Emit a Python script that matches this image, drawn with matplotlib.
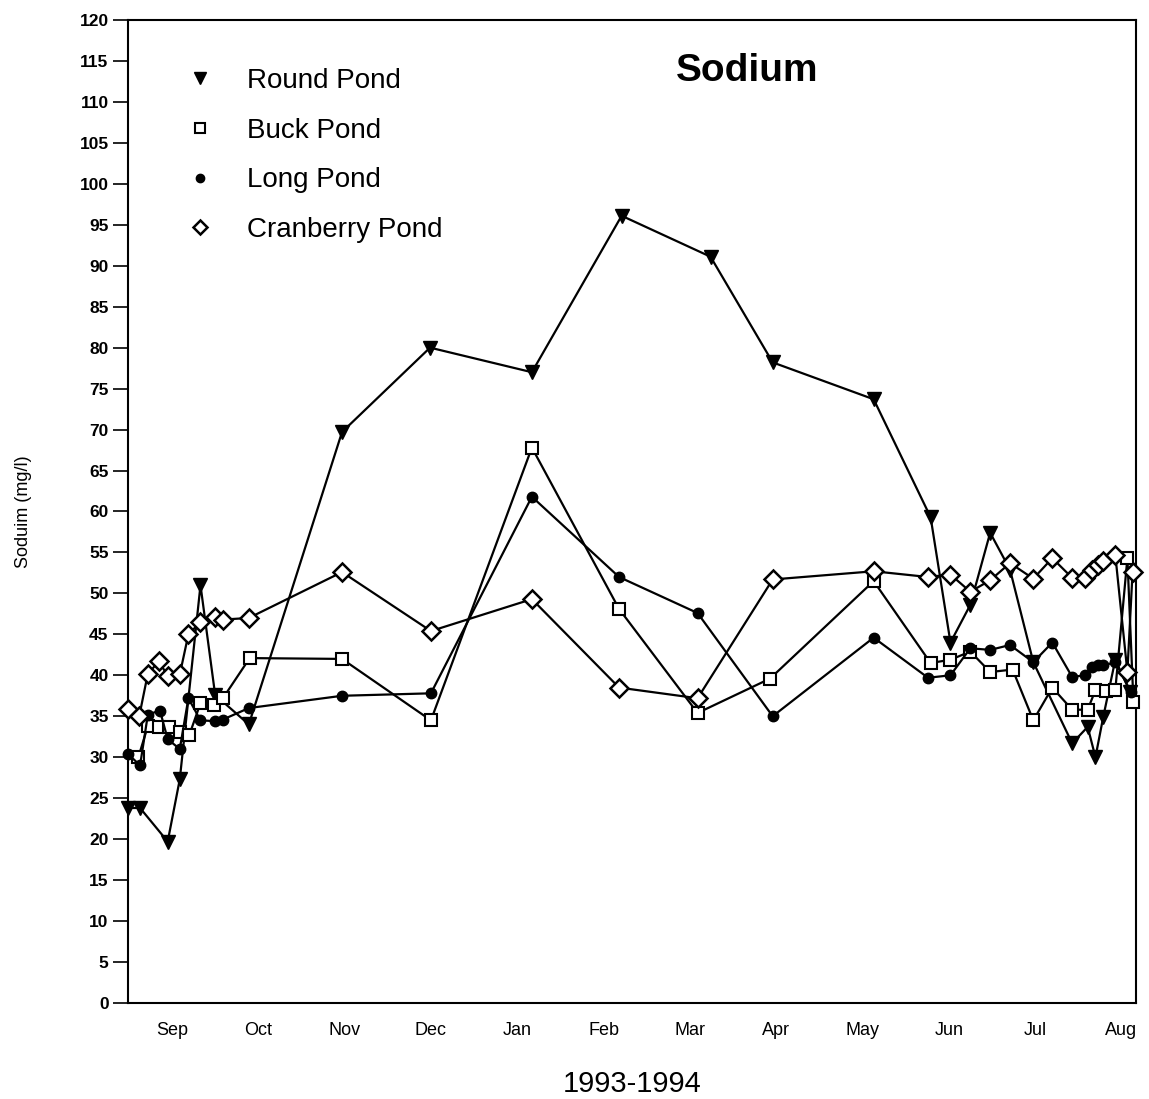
import matplotlib
matplotlib.use("Agg")
import matplotlib.pyplot as plt
from matplotlib.lines import Line2D

plt.rcParams['font.family'] = ['Liberation Sans', 'DejaVu Sans']

# x positions in months (0 = Sep label), y in mg/l
months = ["Sep", "Oct", "Nov", "Dec", "Jan", "Feb", "Mar", "Apr", "May", "Jun", "Jul", "Aug"]
y_ticks = list(range(0, 121, 5))

round_x = [-0.51, -0.37, -0.05, 0.09, 0.33, 0.50, 0.89, 1.97, 2.99, 4.17, 5.21, 6.24, 6.96,
           8.13, 8.79, 9.02, 9.25, 9.48, 9.71, 9.98, 10.43, 10.61, 10.70, 10.79, 10.93, 11.10]
round_y = [23.8, 23.8, 19.7, 27.3, 51.0, 37.6, 34.0, 69.7, 80.0, 77.0, 96.1, 91.1, 78.2,
           73.7, 59.3, 44.0, 48.6, 57.4, 52.9, 41.6, 31.7, 33.7, 30.0, 34.9, 41.9, 38.0]

buck_x = [-0.39, -0.28, -0.15, -0.04, 0.09, 0.20, 0.33, 0.49, 0.59, 0.90, 1.97, 3.00, 4.17,
          5.18, 6.09, 6.93, 8.13, 8.79, 9.02, 9.25, 9.48, 9.74, 9.98, 10.20, 10.43, 10.61,
          10.70, 10.82, 10.93, 11.07, 11.14]
buck_y = [30.0, 33.8, 33.7, 33.7, 33.1, 32.7, 36.6, 36.4, 37.2, 42.1, 42.0, 34.5, 67.8,
          48.1, 35.4, 39.6, 51.5, 41.5, 41.9, 42.9, 40.4, 40.7, 34.5, 38.5, 35.8, 35.8,
          38.2, 38.1, 38.2, 54.3, 36.8]

long_x = [-0.51, -0.37, -0.28, -0.14, -0.05, 0.09, 0.19, 0.33, 0.50, 0.59, 0.89, 1.97, 3.00,
          4.17, 5.18, 6.09, 6.96, 8.13, 8.76, 9.02, 9.25, 9.48, 9.71, 9.98, 10.20, 10.43,
          10.58, 10.66, 10.73, 10.79, 10.93, 11.11]
long_y = [30.4, 29.0, 35.2, 35.7, 32.2, 31.0, 37.2, 34.5, 34.4, 34.6, 36.0, 37.5, 37.8,
          61.8, 52.0, 47.6, 35.0, 44.6, 39.7, 40.0, 43.3, 43.1, 43.7, 41.6, 44.0, 39.8,
          40.0, 41.0, 41.2, 41.2, 41.6, 38.0]

cran_x = [-0.51, -0.38, -0.28, -0.15, -0.05, 0.09, 0.19, 0.33, 0.50, 0.59, 0.89, 1.97, 3.00,
          4.17, 5.18, 6.09, 6.96, 8.13, 8.76, 9.02, 9.25, 9.48, 9.71, 9.98, 10.20, 10.43,
          10.58, 10.66, 10.73, 10.79, 10.93, 11.07, 11.13]
cran_y = [35.9, 35.0, 40.2, 41.7, 39.9, 40.1, 45.0, 46.5, 47.1, 46.8, 47.0, 52.6, 45.4,
          49.3, 38.5, 37.2, 51.7, 52.7, 52.0, 52.3, 50.2, 51.6, 53.7, 51.8, 54.3, 51.9,
          51.9, 52.9, 53.5, 53.9, 54.7, 40.4, 52.6]

fig = plt.figure(figsize=(11.49, 10.99), dpi=100)
ax = fig.add_axes([0.1114, 0.0874, 0.8773, 0.8944])

lw = 1.6
ax.plot(round_x, round_y, color='black', lw=lw, marker='v', ms=10, mfc='black', mec='black', clip_on=False, zorder=3)
ax.plot(buck_x, buck_y, color='black', lw=lw, marker='s', ms=9, mfc='white', mec='black', mew=1.5, clip_on=False, zorder=3)
ax.plot(long_x, long_y, color='black', lw=lw, marker='o', ms=7.5, mfc='black', mec='black', clip_on=False, zorder=3)
ax.plot(cran_x, cran_y, color='black', lw=lw, marker='D', ms=9, mfc='white', mec='black', mew=1.8, clip_on=False, zorder=4)

ax.set_xlim(-0.51, 11.17)
ax.set_ylim(0, 120)
ax.set_yticks(y_ticks)
ax.set_yticklabels([str(v) for v in y_ticks], fontsize=12.5, fontweight='bold')
ax.set_xticks(range(len(months)))
ax.set_xticklabels(months, fontsize=13)
ax.tick_params(axis='x', length=0, pad=14)
ax.tick_params(axis='y', direction='out', length=11, width=1.2, pad=3)
for s in ax.spines.values():
    s.set_linewidth(1.5)

ax.set_ylabel("Soduim (mg/l)", fontsize=13, labelpad=34)
ax.set_xlabel("1993-1994", fontsize=21, labelpad=22)

ax.text(0.614, 0.948, "Sodium", transform=ax.transAxes, fontsize=28, fontweight='bold',
        ha='center', va='center')

handles = [
    Line2D([], [], ls='none', marker='v', ms=8, mfc='black', mec='black'),
    Line2D([], [], ls='none', marker='s', ms=7, mfc='white', mec='black', mew=1.5),
    Line2D([], [], ls='none', marker='o', ms=6, mfc='black', mec='black'),
    Line2D([], [], ls='none', marker='D', ms=7, mfc='white', mec='black', mew=1.8),
]
labels = ["Round Pond", "Buck Pond", "Long Pond", "Cranberry Pond"]
ax.legend(handles, labels, loc='upper left', bbox_to_anchor=(0.0575, 0.951), frameon=False,
          fontsize=20, handlelength=1.0, handletextpad=1.2, labelspacing=0.85, borderpad=0,
          borderaxespad=0)

fig.savefig("out.png", dpi=100)
